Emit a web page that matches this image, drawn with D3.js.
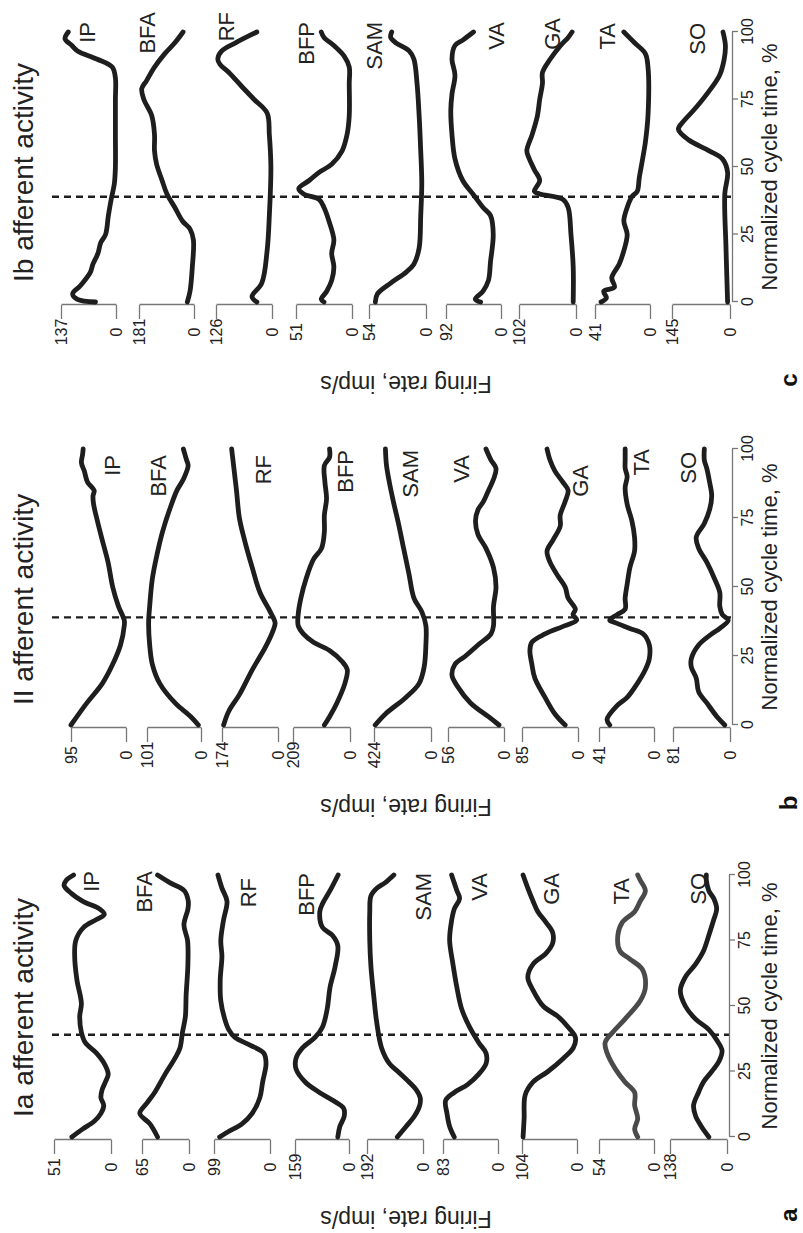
<!DOCTYPE html>
<html>
<head>
<meta charset="utf-8">
<script src="https://cdn.jsdelivr.net/npm/d3@7"></script>
<style>
  html, body { margin: 0; padding: 0; background: #fff; }
  svg { display: block; }
</style>
</head>
<body>
<svg id="fig" width="803" height="1233"></svg>
<script>
// ---------------- data: firing rate (imp/s) vs normalized cycle time (%) ----------------
const muscles = ["IP", "BFA", "RF", "BFP", "SAM", "VA", "GA", "TA", "SO"];
const timeTicks = [0, 25, 50, 75, 100];
const phaseMarker = 39;   // stance/swing transition, % of cycle

// axis maxima printed on each rate axis
const iaMax = [51, 65, 99, 159, 192, 83, 104, 54, 138];
const iiMax = [95, 101, 174, 209, 424, 56, 85, 41, 81];
const ibMax = [137, 181, 126, 51, 54, 92, 102, 41, 145];

// Ia afferents
const iaIP  = [[0,35],[3,25.5],[6,15],[9,9],[12,6.5],[15,9],[18,8],[21,5],[24,2.5],[28,6],[32,13],[36,23],[40,26.5],[46,28],[51,26.5],[60,30.5],[69,32.5],[75,31.5],[80,24.5],[83,13],[85,6],[87,10],[90,25.5],[93,35.5],[96,42],[98,40],[100,33.5]];
const iaBFA = [[0,43.5],[5,54],[9,68],[13,58],[17,47.5],[24,33],[30,19.5],[34,12.5],[40,9],[46,5],[54,4],[66,1.5],[75,2],[81,7],[87,1.5],[90,1],[94,6.5],[97,26],[100,43.5]];
const iaRF  = [[0,89],[2,74],[5,49.5],[9,31.5],[15,18],[21,13],[28,7],[32,11],[35,34.5],[38,62],[41,73],[45,80],[52,87],[60,88],[69,85],[75,87],[83,82],[90,76],[95,85],[100,92]];
const iaBFP = [[0,33],[4,27],[8,14],[11,16],[14,48],[17,87],[21,129],[26,156],[30,156],[34,137],[38,100],[42,78],[49,64],[57,56],[65,41],[73,33],[77,49],[80,78],[86,86],[89,78],[94,56],[100,32]];
const iaSAM = [[0,88],[4,58],[8,29],[12,11.5],[15,9.5],[18,23],[21,48],[25,86],[28,115],[34,142],[44,159],[54,169],[65,178.5],[75,182.5],[86,182.5],[92,178.5],[95,157.5],[97,130.5],[100,100]];
const iaVA  = [[0,66],[4,73],[9,77],[14,79],[17,66],[20,46],[24,29],[28,18],[32,18],[36,29],[42,43],[49,55],[57,62],[66,68],[75,73],[81,71],[87,66],[91,58],[94,62],[97,66],[100,70]];
const iaGA  = [[0,102],[7,100],[16,98],[21,83],[25,55],[30,26],[34,7],[38,3],[42,17],[46,36],[50,64],[56,83],[61,93],[66,83],[70,59],[74,46],[78,46],[82,59],[86,74],[90,83],[95,93],[100,102]];
const iaTA  = [[0,16],[3,19],[7,16],[12,19],[17,19],[21,28.5],[26,38],[32,46],[36,48],[40,40.5],[45,28.5],[52,13.5],[57,8.5],[64,11.5],[68,24],[71,33.5],[77,35.5],[82,31],[86,19],[90,13.5],[94,8.5],[98,13.5],[100,16]];
const iaSO  = [[0,44],[4,62],[8,76],[12,81],[17,69],[21,57],[25,37],[29,19],[33,12],[37,25],[41,44],[45,76],[50,101],[56,113],[61,101],[66,76],[71,57],[77,44],[83,32],[87,25],[91,32],[94,44],[98,50],[100,50]];

// II afferents
const iiIP  = [[0,95],[8,67.5],[15,41],[22,23],[29,9.5],[36,3],[38,3],[43,13],[50,23],[59,31],[67,41],[74,49.5],[80,56],[83,57],[85,55],[88,66.5],[92,72],[95,77],[98,75],[100,74]];
const iiBFA = [[0,5],[3,19],[8,48.5],[15,77],[22,91],[29,96],[37,98],[43,96],[53,91],[62,82],[70,72],[79,57],[85,45],[89,33],[94,24],[96,27],[100,33]];
const iiRF  = [[0,169],[5,153],[11,120],[20,80],[28,40],[34,16],[37,9],[41,24],[48,56],[57,80],[67,104],[75,120],[85,129],[93,137],[100,144]];
const iiBFP = [[0,94],[3,75],[8,48],[15,19],[20,10],[23,29],[27,75],[30,134],[33,171],[36,190],[40,190],[46,180],[53,161],[60,134],[64,104.5],[70,94],[76,94],[82,86],[88,92],[94,94],[97,75],[100,75]];
const iiSAM = [[0,415],[4,339],[10,187],[15,89],[21,51],[29,38],[36,38],[41,68],[46,127],[55,165],[64,204],[73,242],[81,280],[88,310],[94,331],[100,339]];
const iiVA  = [[0,5],[3,15.5],[8,33.5],[14,46.5],[18,52],[22,49],[25,38.5],[29,26],[33,13],[36,10.5],[43,10.5],[50,8],[57,10.5],[64,18],[69,26],[74,28.5],[78,26],[81,20.5],[85,15.5],[89,10.5],[93,8],[96,13],[100,18]];
const iiGA  = [[0,19.5],[4,35],[10,50],[17,65.5],[22,70],[27,73],[30,70],[33,50],[36,19.5],[38,2],[40,7.5],[42,4],[46,15],[50,19.5],[54,30.5],[59,42.5],[63,47],[67,38],[72,27],[76,27],[81,19.5],[85,15],[88,23],[92,35],[96,42.5],[100,47]];
const iiTA  = [[0,33],[2,35],[7,27.5],[10,20],[15,12.5],[20,6.5],[24,3.5],[29,3.5],[33,8],[35,18],[37,28.5],[38,33],[40,27.5],[42,21.5],[46,21.5],[51,20],[57,18],[63,14.5],[68,14.5],[74,16.5],[80,20],[86,21.5],[90,20],[93,21.5],[96,21.5],[100,21.5]];
const iiSO  = [[0,7.5],[3,18.5],[8,33],[12,44.5],[17,48],[21,55],[24,55],[29,44.5],[33,26],[35,14.5],[38,2.5],[40,11],[43,14.5],[48,14.5],[53,22],[59,33],[64,44.5],[68,48],[73,36.5],[78,29],[83,26],[88,29],[93,33],[96,36.5],[100,36.5]];

// Ib afferents
const ibIP  = [[0,51],[1,96],[3,108],[6,89],[11,64],[14,57.5],[18,45],[22,38],[25,26],[32,19],[38,12],[44,4],[50,1.5],[62,1.5],[75,1.5],[83,1.5],[87,9.5],[90,48],[93,96],[95,110],[97.5,127],[100,119]];
const ibBFA = [[0,22],[4,13],[13,5.5],[23,2],[27,13],[30,38],[35,63],[40,89],[45,105],[51,123],[56,130],[62,130],[69,139],[75,165],[79,172],[82,156],[87,130],[92,96],[96,63],[100,36]];
const ibRF  = [[0,34],[2,45],[7,23],[19,11],[32,6],[50,2.5],[62,6],[70,11],[75,40],[80,69],[85,97],[88,117],[90,122],[93,113],[96,82],[100,34]];
const ibBFP = [[0,25.5],[1,28],[4,23],[8,18.5],[13,16.5],[18,18.5],[23,16.5],[30,21],[35,25.5],[38,30],[40,44],[42,48.5],[45,39],[48,30],[51,18.5],[56,9],[62,4.5],[69,2.5],[81,2.5],[87,2.5],[91,7],[95,16.5],[98,25.5],[100,28]];
const ibSAM = [[0,48],[3,46],[7,33.5],[11,19],[14,11.5],[20,6.5],[32,5],[44,4],[56,5],[69,6.5],[81,8.5],[90,11.5],[93,16],[96,28.5],[98,33.5],[100,32.5]];
const ibVA  = [[0,34],[1,43],[4,30],[8,21],[15,17.5],[25,13],[32,17.5],[35,30],[40,47],[45,64],[53,77],[62,82],[71,84],[77,82],[84,77],[90,82],[95,77],[97,64],[100,46]];
const ibGA  = [[0,5],[13,5],[25,9],[35,14],[38,23.5],[40,65],[41,74.5],[45,65],[49,74.5],[53,83.5],[56,88],[62,78.5],[69,69],[75,65],[81,60],[85,60],[90,46],[95,27.5],[98,14],[100,7]];
const ibTA  = [[0,36.5],[1.5,32.5],[4,34.5],[5.5,26.5],[9,28.5],[14,23],[19,19.5],[25,17],[30,19.5],[35,17],[39,13.5],[41,9.5],[46,8],[53,5.5],[59,3.5],[69,1.5],[87,1.5],[92,3.5],[96,11.5],[100,19.5]];
const ibSO  = [[0,6],[20,10],[40,13],[48,6],[53,19],[56,52],[60,103],[64,129],[67,116],[71,91],[77,58],[84,26],[90,14.5],[95,11.5],[100,17.5]];

const panels = [
  { title: "Ia afferent activity", letter: "a", maxima: iaMax,
    series: [iaIP, iaBFA, iaRF, iaBFP, iaSAM, iaVA, iaGA, iaTA, iaSO] },
  { title: "II afferent activity", letter: "b", maxima: iiMax,
    series: [iiIP, iiBFA, iiRF, iiBFP, iiSAM, iiVA, iiGA, iiTA, iiSO] },
  { title: "Ib afferent activity", letter: "c", maxima: ibMax,
    series: [ibIP, ibBFA, ibRF, ibBFP, ibSAM, ibVA, ibGA, ibTA, ibSO] }
];

// ---------------- layout (figure drawn in landscape frame, then turned) ----------------
const FIG_W = 1233, FIG_H = 803;
const FONT = "'Liberation Sans', Arial, Helvetica, sans-serif";
const INK = "#1e1e1e";
const AXIS = "#777";

const panelStart = [96, 508, 931];      // x of 0 % in each panel
const panelLen   = [262, 276, 270];     // length of the 0..100 % axis
const rateTop  = [[54, 142, 214, 295, 367, 443, 522, 599, 670],
                  [71, 147, 222, 293, 374, 448, 522, 599, 673],
                  [61, 139, 216, 296, 369, 446, 519, 595, 672]];
const rateZero = [[111, 189, 270, 349, 423, 498, 577, 654, 727],
                  [126, 201, 278, 350, 431, 504, 578, 654, 730],
                  [116, 194, 272, 352, 426, 501, 576, 650, 730]];
const labelBase = [[99, 152, 256, 314, 431, 487, 559, 629, 706],
                   [120, 166, 271, 353, 418, 469, 588, 649, 696],
                   [95, 155, 234, 314, 382, 504, 560, 615, 705]];
const labelShift = [[-4, -4, 3, -2, -2, -2, -2, 3, -2],
                    [6, 6, 6, 1, 1, 6, 16, 0, 3],
                    [-10, -20, -20, -10, -10, -10, -14, -9, -9]];
const traceColor = (p, i) => (p === 0 && muscles[i] === "TA") ? "#4a4a4a" : INK;

const svg = d3.select("#fig");
// landscape figure rotated a quarter turn counter-clockwise onto the portrait page
const fig = svg.append("g").attr("transform", `translate(0,${FIG_W}) rotate(-90)`);

panels.forEach((panel, p) => {
  const x0 = panelStart[p], len = panelLen[p];
  const x = d3.scaleLinear().domain([0, 100]).range([x0, x0 + len]);
  const axisY = rateZero[p][8] + 2;
  const g = fig.append("g");

  // panel title
  g.append("text")
    .attr("x", x0 + 20).attr("y", 33)
    .attr("font-family", FONT).attr("font-size", 28).attr("fill", "#222")
    .text(panel.title);

  // phase marker
  g.append("line")
    .attr("x1", x(phaseMarker)).attr("x2", x(phaseMarker))
    .attr("y1", 52).attr("y2", axisY)
    .attr("stroke", INK).attr("stroke-width", 2.4)
    .attr("stroke-dasharray", "7,5");

  muscles.forEach((m, i) => {
    const max = panel.maxima[i];
    const y = d3.scaleLinear().domain([0, max]).range([rateZero[p][i], rateTop[p][i]]);

    // rate axis bracket
    const ax = g.append("g")
      .attr("transform", `translate(${x0 - 3},0)`)
      .call(d3.axisLeft(y).tickValues([0, max]).tickSize(14).tickSizeOuter(0).tickFormat(d3.format("d")));
    ax.select(".domain").attr("stroke", AXIS).attr("stroke-width", 1.3);
    ax.selectAll(".tick line").attr("stroke", AXIS).attr("stroke-width", 1.3);
    ax.selectAll(".tick text")
      .attr("x", -27).attr("text-anchor", "middle")
      .attr("font-family", FONT).attr("font-size", 16).attr("fill", "#222");

    // firing-rate trace
    g.append("path")
      .datum(panel.series[i])
      .attr("fill", "none")
      .attr("stroke", traceColor(p, i))
      .attr("stroke-width", 4.8)
      .attr("stroke-linecap", "round")
      .attr("stroke-linejoin", "round")
      .attr("d", d3.line()
        .x(d => x(d[0]))
        .y(d => y(d[1]))
        .curve(d3.curveCatmullRom.alpha(0.5)));

    // muscle name
    g.append("text")
      .attr("x", x0 + len - labelShift[p][i]).attr("y", labelBase[p][i])
      .attr("text-anchor", "end")
      .attr("font-family", FONT).attr("font-size", 22).attr("fill", "#222")
      .text(m);
  });

  // cycle-time axis
  const tx = g.append("g")
    .attr("transform", `translate(0,${axisY})`)
    .call(d3.axisBottom(x).tickValues(timeTicks).tickSize(6).tickPadding(4).tickSizeOuter(0));
  tx.select(".domain").attr("stroke", AXIS).attr("stroke-width", 1.3);
  tx.selectAll(".tick line").attr("stroke", AXIS).attr("stroke-width", 1.3);
  tx.selectAll(".tick text")
    .attr("font-family", FONT).attr("font-size", 16).attr("fill", "#222");

  g.append("text")
    .attr("x", x0 + len / 2).attr("y", 777)
    .attr("text-anchor", "middle")
    .attr("font-family", FONT).attr("font-size", 22).attr("fill", "#222")
    .text("Normalized cycle time, %");

  // rate axis title
  g.append("text")
    .attr("transform", `translate(${x0 - 74},406) rotate(-90)`)
    .attr("text-anchor", "middle")
    .attr("font-family", FONT).attr("font-size", 23).attr("fill", "#222")
    .text("Firing rate, imp/s");

  // panel letter
  g.append("text")
    .attr("x", x0 - 78).attr("y", 797)
    .attr("text-anchor", "middle")
    .attr("font-family", FONT).attr("font-size", 24).attr("font-weight", "bold").attr("fill", "#111")
    .text(panel.letter);
});
</script>
</body>
</html>
